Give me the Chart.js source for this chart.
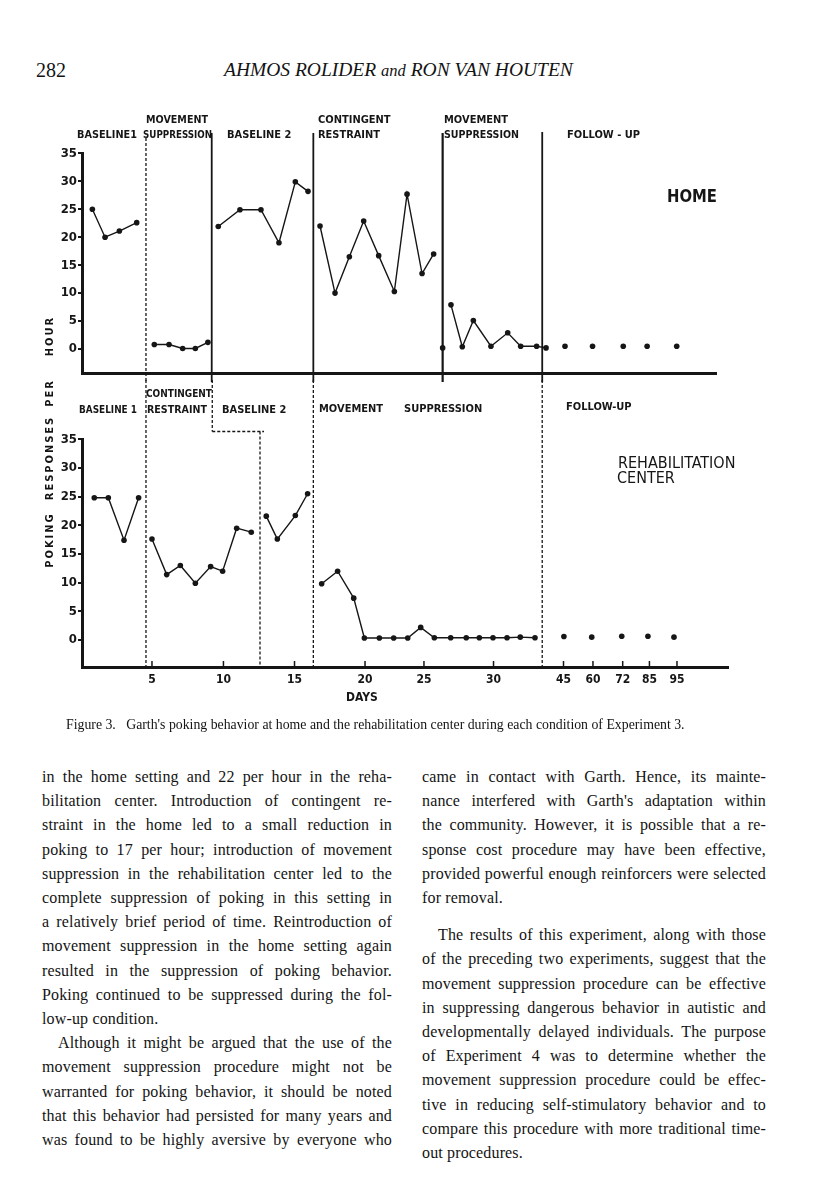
<!DOCTYPE html>
<html>
<head>
  <meta charset="utf-8">
  <title>Figure 3 - Garth's poking behavior</title>
  <script src="https://cdn.jsdelivr.net/npm/chart.js"></script>
  <style>
    body {
      margin: 0;
      background: #fff;
    }
    .page {
      position: relative;
      width: 816px;
      height: 1200px;
      overflow: hidden;
      color: #131313;
      font-family: 'Liberation Serif', 'DejaVu Serif', serif;
    }
    .pagenum { position: absolute; left: 36px; top: 59px; font-size: 20px; }
    .running { position: absolute; left: 224px; top: 59px; font-size: 19.5px; font-style: italic; white-space: nowrap; }
    .running i { font-size: 16.5px; }

    .chartbox { position: absolute; left: 0; width: 816px; }
    #homeBox { top: 100px; height: 282px; }
    #rehabBox { top: 380px; height: 340px; }

    .ytitle {
      position: absolute;
      left: 49px;
      transform: translate(-50%, -50%) rotate(-90deg);
      font: bold 11px 'DejaVu Sans Condensed', 'Liberation Sans Narrow', 'DejaVu Sans', sans-serif;
      letter-spacing: 2px;
      white-space: nowrap;
    }

    .caption {
      position: absolute;
      left: 66px;
      top: 717px;
      font-size: 13.8px;
      white-space: pre;
    }

    .col {
      position: absolute;
      top: 765px;
      font-size: 16px;
      letter-spacing: 0.15px;
      line-height: 24.2px;
    }
    .col div { text-align: justify; text-align-last: justify; }
    .col div.end { text-align-last: left; }
    .col div.ind { text-indent: 16px; }
    #left { left: 42px; width: 350px; }
    #right { left: 422px; width: 344px; }
    .gap { margin-top: 13px; }
  </style>
</head>
<body>
<div class="page">
  <div class="pagenum">282</div>
  <div class="running">AHMOS ROLIDER <i>and</i> RON VAN HOUTEN</div>

  <div class="chartbox" id="homeBox"><canvas id="homeChart"></canvas></div>
  <div class="chartbox" id="rehabBox"><canvas id="rehabChart"></canvas></div>

  <div class="ytitle" style="top:336px">HOUR</div>
  <div class="ytitle" style="top:393px">PER</div>
  <div class="ytitle" style="top:458px">RESPONSES</div>
  <div class="ytitle" style="top:540px">POKING</div>

  <div class="caption">Figure 3.   Garth's poking behavior at home and the rehabilitation center during each condition of Experiment 3.</div>

  <div class="col" id="left">
    <div>in the home setting and 22 per hour in the reha-</div>
    <div>bilitation center. Introduction of contingent re-</div>
    <div>straint in the home led to a small reduction in</div>
    <div>poking to 17 per hour; introduction of movement</div>
    <div>suppression in the rehabilitation center led to the</div>
    <div>complete suppression of poking in this setting in</div>
    <div>a relatively brief period of time. Reintroduction of</div>
    <div>movement suppression in the home setting again</div>
    <div>resulted in the suppression of poking behavior.</div>
    <div>Poking continued to be suppressed during the fol-</div>
    <div class="end">low-up condition.</div>
    <div class="ind">Although it might be argued that the use of the</div>
    <div>movement suppression procedure might not be</div>
    <div>warranted for poking behavior, it should be noted</div>
    <div>that this behavior had persisted for many years and</div>
    <div>was found to be highly aversive by everyone who</div>
  </div>

  <div class="col" id="right">
    <div>came in contact with Garth. Hence, its mainte-</div>
    <div>nance interfered with Garth's adaptation within</div>
    <div>the community. However, it is possible that a re-</div>
    <div>sponse cost procedure may have been effective,</div>
    <div>provided powerful enough reinforcers were selected</div>
    <div class="end">for removal.</div>
    <div class="ind gap">The results of this experiment, along with those</div>
    <div>of the preceding two experiments, suggest that the</div>
    <div>movement suppression procedure can be effective</div>
    <div>in suppressing dangerous behavior in autistic and</div>
    <div>developmentally delayed individuals. The purpose</div>
    <div>of Experiment 4 was to determine whether the</div>
    <div>movement suppression procedure could be effec-</div>
    <div>tive in reducing self-stimulatory behavior and to</div>
    <div>compare this procedure with more traditional time-</div>
    <div class="end">out procedures.</div>
  </div>
</div>

<script>
  const INK = '#161616';
  const COND = "'DejaVu Sans Condensed', 'Liberation Sans Narrow', 'DejaVu Sans', sans-serif";

  // responses per hour
  const yTicks = [0, 5, 10, 15, 20, 25, 30, 35];

  // day axis: where each printed tick sits on the plotted axis, and its label
  const dayTickPos = [5, 10.24, 15.45, 20.62, 24.94, 30.04, 35.17, 37.33, 39.51, 41.47, 43.49];
  const dayTickLabels = ['5', '10', '15', '20', '25', '30', '45', '60', '72', '85', '95'];

  // ---- HOME ----
  const homeBase1Days = [0.63, 1.56, 2.61, 3.88];
  const homeBase1 = [25, 20, 21.1, 22.6];
  const homeMove1Days = [5.17, 6.25, 7.25, 8.18, 9.1];
  const homeMove1 = [0.8, 0.8, 0.1, 0.1, 1.2];
  const homeBase2Days = [9.86, 11.45, 12.99, 14.31, 15.51, 16.44];
  const homeBase2 = [21.9, 24.9, 24.9, 19, 29.9, 28.2];
  const homeRestrDays = [17.32, 18.42, 19.47, 20.52, 21.62, 22.77, 23.7, 24.8, 25.65];
  const homeRestr = [22, 10, 16.5, 22.9, 16.7, 10.3, 27.7, 13.5, 17];
  const homeMove2FirstDay = [26.31];
  const homeMove2First = [0.2];
  const homeMove2Days = [26.92, 27.75, 28.56, 29.85, 31.08, 32.03, 33.2, 33.89];
  const homeMove2 = [7.9, 0.4, 5.1, 0.5, 2.9, 0.5, 0.5, 0.2];
  const homeFollowDays = [35.28, 37.3, 39.55, 41.3, 43.47];
  const homeFollow = [0.5, 0.5, 0.5, 0.5, 0.5];
  const homePhaseDays = [4.56, 9.38, 16.83, 26.31, 33.61];

  // ---- REHABILITATION CENTER ----
  const rehabBase1Days = [0.77, 1.8, 2.95, 4.02];
  const rehabBase1 = [24.8, 24.8, 17.4, 24.8];
  const rehabRestrDays = [5.0, 6.08, 7.08, 8.18, 9.3, 10.18, 11.21, 12.28];
  const rehabRestr = [17.6, 11.4, 13.0, 9.9, 12.8, 12.0, 19.5, 18.8];
  const rehabBase2Days = [13.38, 14.19, 15.51, 16.41];
  const rehabBase2 = [21.6, 17.6, 21.7, 25.5];
  const rehabMoveDays = [17.44, 18.61, 19.79, 20.57, 21.67, 22.72, 23.75, 24.7, 25.7, 26.9, 28.04, 29.0, 30.0, 31.03, 32.0, 33.08];
  const rehabMove = [9.8, 12.0, 7.3, 0.35, 0.35, 0.35, 0.35, 2.2, 0.4, 0.4, 0.4, 0.4, 0.4, 0.4, 0.5, 0.4];
  const rehabFollowDays = [35.2, 37.24, 39.44, 41.36, 43.27];
  const rehabFollow = [0.6, 0.5, 0.65, 0.65, 0.5];
  const rehabPhaseDays = [4.56, 9.42, 12.92, 16.83, 33.61];

  const pts = (xs, ys) => xs.map((x, i) => ({ x: x, y: ys[i] }));

  function series(xs, ys, joined) {
    return {
      data: pts(xs, ys),
      showLine: joined,
      borderColor: INK,
      borderWidth: 1.4,
      pointRadius: 2.8,
      pointBackgroundColor: INK,
      pointBorderWidth: 0,
      tension: 0
    };
  }

  // phase lines, condition labels and inward day ticks
  const phasePlugin = {
    id: 'phases',
    afterDraw(chart, args, o) {
      const { ctx, chartArea } = chart;
      const xs = chart.scales.x;
      const yOf = v => (v === 'b' ? chartArea.bottom : v);
      ctx.save();
      ctx.strokeStyle = INK;
      ctx.fillStyle = INK;

      (o.lines || []).forEach(l => {
        ctx.setLineDash(l.dash || []);
        ctx.lineWidth = l.w;
        ctx.beginPath();
        ctx.moveTo(xs.getPixelForValue(l.x0), yOf(l.y0));
        ctx.lineTo(xs.getPixelForValue(l.x1) + (l.extra || 0), yOf(l.y1));
        ctx.stroke();
      });
      ctx.setLineDash([]);

      if (o.innerTicks) {
        ctx.lineWidth = 1.5;
        o.innerTicks.forEach(v => {
          const px = xs.getPixelForValue(v);
          ctx.beginPath();
          ctx.moveTo(px, chartArea.bottom);
          ctx.lineTo(px, chartArea.bottom - 6);
          ctx.stroke();
        });
      }

      ctx.textBaseline = 'middle';
      ctx.textAlign = 'left';
      (o.labels || []).forEach(t => {
        ctx.font = t.font || ('bold 11px ' + COND);
        ctx.fillText(t.text, t.x, t.y, t.w);
      });
      if (o.centered) {
        ctx.textAlign = 'center';
        o.centered.forEach(t => {
          ctx.font = t.font;
          ctx.fillText(t.text, t.x, t.y);
        });
      }
      ctx.restore();
    }
  };

  function baseOptions(cfg) {
    return {
      responsive: true,
      maintainAspectRatio: false,
      animation: false,
      layout: { padding: { left: 0, top: cfg.padTop, right: cfg.padRight, bottom: 0 } },
      plugins: {
        legend: { display: false },
        tooltip: { enabled: false },
        phases: cfg.phases
      },
      scales: {
        x: {
          type: 'linear',
          min: -0.13,
          max: cfg.xMax,
          grid: { display: false, drawTicks: false },
          border: { color: INK, width: 3 },
          afterBuildTicks: s => { s.ticks = dayTickPos.map(v => ({ value: v })); },
          ticks: {
            display: cfg.dayLabels,
            autoSkip: false,
            maxRotation: 0,
            minRotation: 0,
            padding: 6,
            color: INK,
            font: { family: COND, weight: 'bold', size: 12 },
            callback: (v, i) => dayTickLabels[i]
          },
          afterFit: s => { s.height = cfg.xHeight; }
        },
        y: {
          min: cfg.yMin,
          max: 35,
          afterBuildTicks: s => { s.ticks = yTicks.map(v => ({ value: v })); },
          grid: { drawOnChartArea: false, color: INK, lineWidth: 2, tickLength: 4 },
          border: { color: INK, width: 3 },
          ticks: {
            padding: 1,
            color: INK,
            font: { family: COND, weight: 'bold', size: 13 }
          },
          afterFit: s => { s.width = 82; }
        }
      }
    };
  }

  // HOME panel
  new Chart(document.getElementById('homeChart'), {
    type: 'line',
    data: {
      datasets: [
        series(homeBase1Days, homeBase1, true),
        series(homeMove1Days, homeMove1, true),
        series(homeBase2Days, homeBase2, true),
        series(homeRestrDays, homeRestr, true),
        series(homeMove2FirstDay, homeMove2First, false),
        series(homeMove2Days, homeMove2, true),
        series(homeFollowDays, homeFollow, false)
      ]
    },
    options: baseOptions({
      padTop: 53.3, padRight: 100, xMax: 46.35, yMin: -4.32, xHeight: 4, dayLabels: false,
      phases: {
        lines: [
          { x0: homePhaseDays[0], x1: homePhaseDays[0], y0: 38, y1: 282, dash: [3, 2], w: 1.3 },
          { x0: homePhaseDays[1], x1: homePhaseDays[1], y0: 33, y1: 282, w: 1.8 },
          { x0: homePhaseDays[2], x1: homePhaseDays[2], y0: 33, y1: 282, w: 1.8 },
          { x0: homePhaseDays[3], x1: homePhaseDays[3], y0: 33, y1: 282, w: 2.2 },
          { x0: homePhaseDays[4], x1: homePhaseDays[4], y0: 32, y1: 282, w: 1.8 }
        ],
        labels: [
          { text: 'BASELINE1', x: 77, y: 35.5, w: 60 },
          { text: 'MOVEMENT', x: 146, y: 20, w: 62 },
          { text: 'SUPPRESSION', x: 143, y: 35.5, w: 69 },
          { text: 'BASELINE 2', x: 227, y: 35.5, w: 70 },
          { text: 'CONTINGENT', x: 318, y: 20, w: 79 },
          { text: 'RESTRAINT', x: 318, y: 35.5, w: 62 },
          { text: 'MOVEMENT', x: 444, y: 20, w: 67 },
          { text: 'SUPPRESSION', x: 444, y: 35.5, w: 75 },
          { text: 'FOLLOW - UP', x: 567, y: 35.5, w: 80 },
          { text: 'HOME', x: 667, y: 98, w: 50, font: 'bold 17px ' + COND }
        ]
      }
    })
  , plugins: [phasePlugin] });

  // REHABILITATION CENTER panel
  new Chart(document.getElementById('rehabChart'), {
    type: 'line',
    data: {
      datasets: [
        series(rehabBase1Days, rehabBase1, true),
        series(rehabRestrDays, rehabRestr, true),
        series(rehabBase2Days, rehabBase2, true),
        series(rehabMoveDays, rehabMove, true),
        series(rehabFollowDays, rehabFollow, false)
      ]
    },
    options: baseOptions({
      padTop: 59.3, padRight: 88, xMax: 47.23, yMin: -4.71, xHeight: 53, dayLabels: true,
      phases: {
        lines: [
          { x0: rehabPhaseDays[0], x1: rehabPhaseDays[0], y0: 0, y1: 'b', dash: [3, 2], w: 1.3 },
          { x0: rehabPhaseDays[1], x1: rehabPhaseDays[1], y0: 0, y1: 51.5, dash: [3, 2], w: 1.3 },
          { x0: rehabPhaseDays[1], x1: rehabPhaseDays[2], y0: 51.5, y1: 51.5, dash: [3, 2], w: 1.3, extra: 4 },
          { x0: rehabPhaseDays[2], x1: rehabPhaseDays[2], y0: 51.5, y1: 'b', dash: [3, 2], w: 1.3 },
          { x0: rehabPhaseDays[3], x1: rehabPhaseDays[3], y0: 0, y1: 'b', dash: [3, 2], w: 1.3 },
          { x0: rehabPhaseDays[4], x1: rehabPhaseDays[4], y0: 0, y1: 'b', dash: [3, 2], w: 1.3 }
        ],
        innerTicks: dayTickPos,
        labels: [
          { text: 'CONTINGENT', x: 146, y: 14, w: 66, font: 'bold 10.5px ' + COND },
          { text: 'BASELINE 1', x: 79, y: 30, w: 58 },
          { text: 'RESTRAINT', x: 147, y: 30, w: 60 },
          { text: 'BASELINE 2', x: 222, y: 30, w: 67 },
          { text: 'MOVEMENT', x: 319, y: 29, w: 68 },
          { text: 'SUPPRESSION', x: 404, y: 29, w: 79 },
          { text: 'FOLLOW-UP', x: 566, y: 27, w: 76 },
          { text: 'REHABILITATION', x: 618, y: 84, w: 127, font: '500 16px ' + COND },
          { text: 'CENTER', x: 617, y: 99, w: 61, font: '500 16px ' + COND }
        ],
        centered: [
          { text: 'DAYS', x: 362, y: 318, font: 'bold 12px ' + COND }
        ]
      }
    })
  , plugins: [phasePlugin] });
</script>
</body>
</html>
